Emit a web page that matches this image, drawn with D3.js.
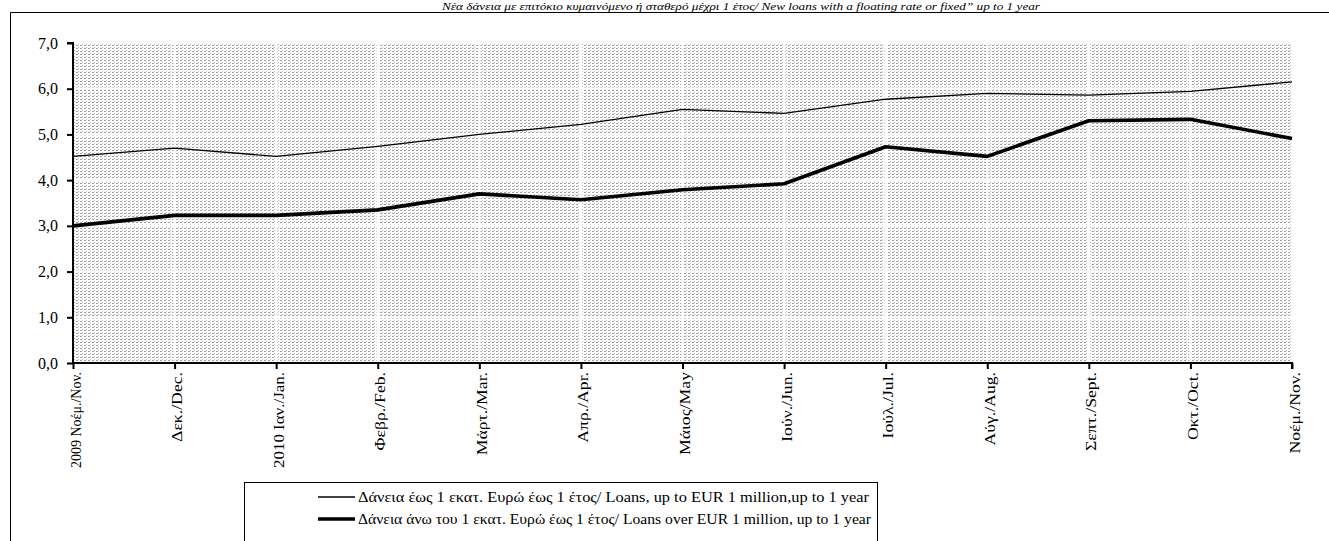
<!DOCTYPE html>
<html><head><meta charset="utf-8">
<script src="https://cdn.jsdelivr.net/npm/d3@7"></script>
<style>body{margin:0;background:#fff}svg{display:block}</style>
</head><body>
<svg id="c" width="1329" height="541"></svg>
<script>
const categories = ["2009 Νοέμ./Νοv.","Δεκ./Dec.","2010 Ιαν./Jan.","Φεβρ./Feb.","Μάρτ./Mar.","Απρ./Apr.","Μάιος/May","Ιούν./Jun.","Ιούλ./Jul.","Αύγ./Aug.","Σεπτ./Sept.","Οκτ./Oct.","Νοέμ./Nov."];
const smallLoans = [4.52,4.70,4.52,4.74,5.00,5.22,5.55,5.46,5.77,5.90,5.86,5.94,6.15];
const largeLoans = [3.00,3.23,3.23,3.35,3.70,3.57,3.79,3.92,4.73,4.52,5.30,5.33,4.91];
const yTicks = [0,1,2,3,4,5,6,7];
const seriesNames = ["Δάνεια έως 1 εκατ. Ευρώ έως 1 έτος/ Loans, up to EUR 1 million,up to 1 year","Δάνεια άνω του 1 εκατ. Ευρώ έως 1 έτος/ Loans over EUR 1 million, up to 1 year"];
const title = "Νέα δάνεια με επιτόκιο κυμαινόμενο ή σταθερό μέχρι 1 έτος/ New loans with a floating rate or fixed\u201d up to 1 year";

const FONT = "'Liberation Serif', 'Times New Roman', serif";
const svg = d3.select("#c").attr("font-family", FONT);
const L = 73, R = 1292, T = 43, B = 363;
const x = d3.scalePoint().domain(categories).range([L, R]);
const y = d3.scaleLinear().domain([0, 7]).range([B, T]);

// outer frame
svg.append("path").attr("d", "M10.5,541 V12.5 H1329").attr("fill","none").attr("stroke","#000").attr("stroke-width",1);

// title
svg.append("text").attr("x", 741).attr("y", 9.5).attr("text-anchor","middle").attr("font-family", FONT)
  .attr("font-size", 11).attr("font-style","italic")
  .attr("textLength", 598).attr("lengthAdjust","spacingAndGlyphs").text(title);

// pattern
const defs = svg.append("defs");
const pat = defs.append("pattern").attr("id","dots").attr("patternUnits","userSpaceOnUse")
  .attr("width",4).attr("height",3);
pat.append("rect").attr("width",4).attr("height",3).attr("fill","#fff");
pat.append("rect").attr("x",0).attr("y",0).attr("width",2).attr("height",1).attr("fill","#a0a0a0");
pat.append("rect").attr("x",2).attr("y",2).attr("width",1).attr("height",1).attr("fill","#bcbcbc");

svg.append("rect").attr("x", L).attr("y", T).attr("width", R - L).attr("height", B - T).attr("fill","url(#dots)");

// white gridlines
svg.append("g").selectAll("line").data(yTicks.slice(1,-1)).join("line")
  .attr("x1", L).attr("x2", R).attr("y1", d => y(d)).attr("y2", d => y(d))
  .attr("stroke","#fff").attr("stroke-width",2.5);
svg.append("g").selectAll("line").data(categories.slice(1,-1)).join("line")
  .attr("x1", d => x(d)).attr("x2", d => x(d)).attr("y1", T).attr("y2", B)
  .attr("stroke","#fff").attr("stroke-width",2.5);

// axes
const yAxis = d3.axisLeft(y).tickValues(yTicks).tickSize(6).tickPadding(9)
  .tickFormat(d => d3.format(".1f")(d).replace(".", ","));
const gy = svg.append("g").attr("transform", `translate(${L},0)`).call(yAxis).attr("font-family", FONT);
gy.select(".domain").attr("stroke-width", 2).attr("d", `M-6,${T}H0V${B}`);
gy.selectAll(".tick line").attr("stroke-width", 2);
gy.selectAll("text").attr("font-size", 16).attr("fill","#000").attr("font-family", FONT);

const xAxis = d3.axisBottom(x).tickSize(6).tickPadding(6);
const gx = svg.append("g").attr("transform", `translate(0,${B})`).call(xAxis).attr("font-family", FONT);
gx.select(".domain").attr("stroke-width", 2).attr("d", `M${L},0H${R}V6`);
gx.selectAll(".tick line").attr("stroke-width", 2);
gx.selectAll("text").attr("font-size", 14.5).attr("fill","#000").attr("font-family", FONT)
  .attr("transform","rotate(-90)").attr("text-anchor","end")
  .attr("x", -9).attr("y", 2).attr("dy","0.35em")
  .each(function() {
    const len = this.getComputedTextLength();
    d3.select(this).attr("textLength", Math.min(len * 1.22, 96)).attr("lengthAdjust","spacingAndGlyphs");
  });

// lines
const line = d3.line().x((d,i) => x(categories[i])).y(d => y(d));
svg.append("path").datum(smallLoans).attr("d", line).attr("fill","none").attr("stroke","#000").attr("stroke-width",1.3);
svg.append("path").datum(largeLoans).attr("d", line).attr("fill","none").attr("stroke","#000").attr("stroke-width",3.6).attr("stroke-linejoin","round");

// legend
const lg = svg.append("g");
lg.append("rect").attr("x", 244.5).attr("y", 482.5).attr("width", 633).attr("height", 60).attr("fill","#fff").attr("stroke","#000");
const widths = [1.3, 3.6];
const textLens = [511, 513];
seriesNames.forEach((n, i) => {
  const yy = 497 + i * 22;
  lg.append("line").attr("x1", 318).attr("x2", 355).attr("y1", yy).attr("y2", yy).attr("stroke","#000").attr("stroke-width", widths[i]);
  lg.append("text").attr("x", 358).attr("y", yy).attr("dy","0.35em").attr("font-size", 15).attr("font-family", FONT)
    .attr("textLength", textLens[i]).attr("lengthAdjust","spacingAndGlyphs").text(n);
});
</script>
</body></html>
